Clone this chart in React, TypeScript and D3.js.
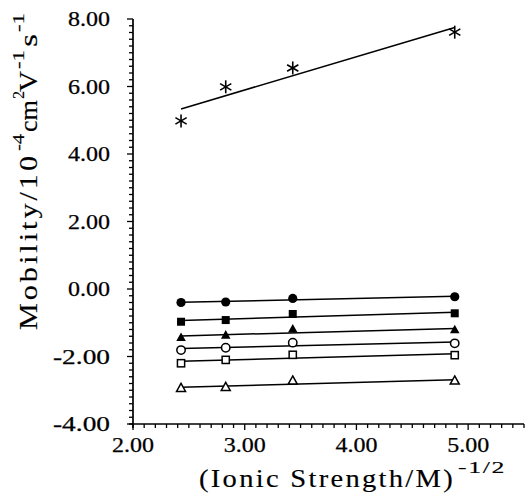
import React from "react";
import * as d3 from "d3";

const xValues = [2.43, 2.83, 3.43, 4.88];
const starSeries = [4.98, 5.99, 6.55, 7.61];
const filledCircle = [-0.40, -0.385, -0.28, -0.23];
const filledSquare = [-0.97, -0.92, -0.74, -0.72];
const filledTriangle = [-1.44, -1.37, -1.19, -1.21];
const openCircle = [-1.81, -1.74, -1.59, -1.61];
const openSquare = [-2.20, -2.10, -1.95, -1.96];
const openTriangle = [-2.94, -2.91, -2.72, -2.72];

const xTickLabels = ["2.00", "3.00", "4.00", "5.00"];
const xTickValues = [2, 3, 4, 5];
const yTickLabels = ["-4.00", "-2.00", "0.00", "2.00", "4.00", "6.00", "8.00"];
const yTickValues = [-4, -2, 0, 2, 4, 6, 8];

type Marker = "star" | "fcircle" | "fsquare" | "ftri" | "ocircle" | "osquare" | "otri";
const series: { values: number[]; marker: Marker }[] = [
  { values: starSeries, marker: "star" },
  { values: filledCircle, marker: "fcircle" },
  { values: filledSquare, marker: "fsquare" },
  { values: filledTriangle, marker: "ftri" },
  { values: openCircle, marker: "ocircle" },
  { values: openSquare, marker: "osquare" },
  { values: openTriangle, marker: "otri" },
];

const FONT = "'Liberation Serif', 'Times New Roman', serif";

function fit(xs: number[], ys: number[]) {
  const mx = d3.mean(xs)!;
  const my = d3.mean(ys)!;
  let sxy = 0, sxx = 0;
  xs.forEach((x, i) => {
    sxy += (x - mx) * (ys[i] - my);
    sxx += (x - mx) * (x - mx);
  });
  const b = sxy / sxx;
  const a = my - b * mx;
  return (x: number) => a + b * x;
}

function MarkerShape({ m, cx, cy }: { m: Marker; cx: number; cy: number }) {
  const k = "#000";
  const tri = (s: number) => {
    const h = s * 0.9;
    return `M${cx},${cy - h * 0.6}L${cx + s / 2},${cy + h * 0.4}L${cx - s / 2},${cy + h * 0.4}Z`;
  };
  switch (m) {
    case "fcircle":
      return <circle cx={cx} cy={cy} r={4.6} fill={k} />;
    case "ocircle":
      return <circle cx={cx} cy={cy} r={4.2} fill="#fff" stroke={k} strokeWidth={1.5} />;
    case "fsquare":
      return <rect x={cx - 4} y={cy - 4} width={8} height={8} fill={k} />;
    case "osquare":
      return <rect x={cx - 3.6} y={cy - 3.6} width={7.2} height={7.2} fill="#fff" stroke={k} strokeWidth={1.5} />;
    case "ftri":
      return <path d={tri(9.5)} fill={k} />;
    case "otri":
      return <path d={tri(9)} fill="#fff" stroke={k} strokeWidth={1.5} />;
    case "star": {
      const r = 6.5;
      const angs = [90, 30, 150];
      return (
        <g stroke={k} strokeWidth={1.6}>
          {angs.map((a) => {
            const dx = r * Math.cos((a * Math.PI) / 180);
            const dy = r * Math.sin((a * Math.PI) / 180);
            return <line key={a} x1={cx - dx} y1={cy - dy} x2={cx + dx} y2={cy + dy} />;
          })}
        </g>
      );
    }
  }
  return null;
}

const tick = { fontFamily: FONT, fill: "#000", stroke: "#000", strokeWidth: 0.25 };
const title = { fontFamily: FONT, fill: "#000", stroke: "#000", strokeWidth: 0.15 };

export default function App() {
  const x = d3.scaleLinear().domain([2, 5.5]).range([133, 524]);
  const y = d3.scaleLinear().domain([-4, 8]).range([424, 19]);
  const x0 = x(2);
  const y0 = y(-4);

  const xMinor = d3.range(2, 5.5001, 0.1);
  const yMinor = d3.range(-4, 8.0001, 0.2);
  const line = d3.line<[number, number]>().x((d) => x(d[0])).y((d) => y(d[1]));

  return (
    <svg width={526} height={495} style={{ position: "absolute", left: 0, top: 0, background: "#fff" }}>
      {/* axes */}
      <line x1={x0} y1={y(8)} x2={x0} y2={y0 + 4} stroke="#000" strokeWidth={1.7} />
      <line x1={x0 - 4} y1={y0} x2={x(5.5)} y2={y0} stroke="#000" strokeWidth={1.7} />
      {yMinor.map((v, i) => (
        <line key={"ym" + i} x1={x0 - (i % 10 === 0 ? 6 : 4)} x2={x0} y1={y(v)} y2={y(v)} stroke="#000" strokeWidth={1.3} />
      ))}
      {xMinor.map((v, i) => (
        <line key={"xm" + i} x1={x(v)} x2={x(v)} y1={y0} y2={y0 + (i % 10 === 0 ? 6 : 4)} stroke="#000" strokeWidth={1.3} />
      ))}
      {yTickValues.map((v, i) => (
        <text key={"yl" + i} x={110} y={y(v) + 7} textAnchor="end" fontSize={20} {...tick}
          textLength={yTickLabels[i].startsWith("-") ? 57 : 42} lengthAdjust="spacingAndGlyphs">
          {yTickLabels[i]}
        </text>
      ))}
      {xTickValues.map((v, i) => (
        <text key={"xl" + i} x={x(v) - 21} y={452} fontSize={20} {...tick}
          textLength={42} lengthAdjust="spacingAndGlyphs">
          {xTickLabels[i]}
        </text>
      ))}

      {/* x title */}
      <text x={199} y={487} fontSize={25} letterSpacing={2} {...title} textLength={256} lengthAdjust="spacingAndGlyphs">
        (Ionic Strength/M)
      </text>
      <text x={458} y={473} fontSize={16} letterSpacing={1} {...title} textLength={48} lengthAdjust="spacingAndGlyphs">
        -1/2
      </text>

      {/* y title (rotated) */}
      <g transform="translate(37,330) rotate(-90)">
        <text x={0} y={0} fontSize={25} letterSpacing={2.5} {...title} textLength={177} lengthAdjust="spacingAndGlyphs">
          Mobility/10
        </text>
        <text x={179} y={-13} fontSize={16} {...title} textLength={17} lengthAdjust="spacingAndGlyphs">
          -4
        </text>
        <text x={198} y={0} fontSize={25} {...title} textLength={32} lengthAdjust="spacingAndGlyphs">
          cm
        </text>
        <text x={231} y={-13} fontSize={16} {...title}>
          2
        </text>
        <text x={238} y={0} fontSize={25} {...title} textLength={21} lengthAdjust="spacingAndGlyphs">
          V
        </text>
        <text x={261} y={-13} fontSize={16} {...title} textLength={19} lengthAdjust="spacingAndGlyphs">
          -1
        </text>
        <text x={283} y={0} fontSize={25} {...title} textLength={13} lengthAdjust="spacingAndGlyphs">
          s
        </text>
        <text x={298} y={-13} fontSize={16} {...title} textLength={19} lengthAdjust="spacingAndGlyphs">
          -1
        </text>
      </g>

      {/* fit lines and markers */}
      {series.map((s, si) => {
        const f = fit(xValues, s.values);
        const ends: [number, number][] = [
          [xValues[0], f(xValues[0])],
          [xValues[xValues.length - 1], f(xValues[xValues.length - 1])],
        ];
        return (
          <g key={"s" + si}>
            <path d={line(ends) || ""} stroke="#000" strokeWidth={1.5} fill="none" />
            {s.values.map((v, i) => (
              <MarkerShape key={i} m={s.marker} cx={x(xValues[i])} cy={y(v)} />
            ))}
          </g>
        );
      })}
    </svg>
  );
}
